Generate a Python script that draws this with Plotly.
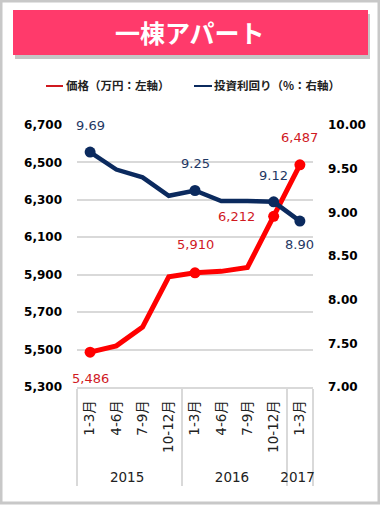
import plotly.graph_objects as go

# ---- data ----
years = ["2015", "2015", "2015", "2015", "2016", "2016", "2016", "2016", "2017"]
quarters = ["1-3月", "4-6月", "7-9月", "10-12月", "1-3月", "4-6月", "7-9月", "10-12月", "1-3月"]
price = [5486, 5520, 5620, 5889, 5910, 5918, 5939, 6212, 6487]          # 万円 (left axis)
yield_pct = [9.69, 9.49, 9.40, 9.19, 9.25, 9.13, 9.13, 9.12, 8.90]     # % (right axis)
left_ticks = [5300, 5500, 5700, 5900, 6100, 6300, 6500, 6700]
right_ticks = [7.00, 7.50, 8.00, 8.50, 9.00, 9.50, 10.00]
title_text = "一棟アパート"
legend_price = "価格（万円：左軸）"
legend_yield = "投資利回り（%：右軸）"

# labelled points: (index, yshift, xshift)
price_labels = [(0, -26, 0), (4, 28, 0), (7, 0, -37), (8, 27, 0)]
yield_labels = [(0, 27, 0), (4, 27, 0), (7, 26, 0), (8, -23, 0)]

RED = "#FF0000"
RED_TXT = "#D0191F"
NAVY = "#0B2A5E"
NAVY_TXT = "#1F3864"
GRID = "#D9D9D9"
FONT = "DejaVu Sans, Noto Sans CJK JP"

W, H = 380, 505
ML, MR, MT, MB = 77, 67, 125, 118
PW, PH = W - ML - MR, H - MT - MB


def px(x):
    return (x - ML) / PW


def py(y):
    return 1 - (y - MT) / PH


# leading non-breaking spaces leave room below the rotated quarter labels
quarters_disp = ["\u00a0\u00a0" + q for q in quarters]
x = [years, quarters_disp]
price_marker_sizes = [11 if i in [p[0] for p in price_labels] else 0 for i in range(len(price))]
yield_marker_sizes = [11 if i in [p[0] for p in yield_labels] else 0 for i in range(len(yield_pct))]

fig = go.Figure()
fig.add_trace(go.Scatter(
    x=x, y=yield_pct, yaxis="y2", mode="lines+markers",
    line=dict(color=NAVY, width=4.5),
    marker=dict(size=yield_marker_sizes, color=NAVY, opacity=1, line=dict(width=0)),
    showlegend=False, hoverinfo="skip",
))
fig.add_trace(go.Scatter(
    x=x, y=price, mode="lines+markers",
    line=dict(color=RED, width=5),
    marker=dict(size=price_marker_sizes, color=RED, opacity=1, line=dict(width=0)),
    showlegend=False, hoverinfo="skip",
))

annotations = []
for i, ys, xs in price_labels:
    annotations.append(dict(
        x=i, y=price[i], xref="x", yref="y", text=f"{price[i]:,}", showarrow=False,
        yshift=ys, xshift=xs, font=dict(color=RED_TXT, size=13, family=FONT),
    ))
for i, ys, xs in yield_labels:
    annotations.append(dict(
        x=i, y=yield_pct[i], xref="x", yref="y2", text=f"{yield_pct[i]:.2f}", showarrow=False,
        yshift=ys, xshift=xs, font=dict(color=NAVY_TXT, size=13, family=FONT),
    ))

# title banner text
annotations.append(dict(
    x=px(190), y=py(32), xref="paper", yref="paper", text=f"<b>{title_text}</b>",
    showarrow=False, font=dict(color="white", size=25, family="Noto Sans CJK JP"),
    xanchor="center", yanchor="middle",
))
# legend texts
annotations.append(dict(
    x=px(64), y=py(85), xref="paper", yref="paper", text=f"<b>{legend_price}</b>",
    showarrow=False, font=dict(color="#222222", size=11.5, family="Noto Sans CJK JP"),
    xanchor="left", yanchor="middle",
))
annotations.append(dict(
    x=px(212), y=py(85), xref="paper", yref="paper", text=f"<b>{legend_yield}</b>",
    showarrow=False, font=dict(color="#222222", size=11.5, family="Noto Sans CJK JP"),
    xanchor="left", yanchor="middle",
))

shapes = [
    # outer frame
    dict(type="rect", xref="paper", yref="paper", x0=px(1), x1=px(379), y0=py(1), y1=py(503),
         line=dict(color="#C8C8C8", width=3), fillcolor="rgba(0,0,0,0)", layer="below"),
    # banner shadow
    dict(type="rect", xref="paper", yref="paper", x0=px(15), x1=px(370), y0=py(14), y1=py(59),
         line=dict(width=0), fillcolor="rgba(90,90,90,0.35)", layer="below"),
    # banner
    dict(type="rect", xref="paper", yref="paper", x0=px(13), x1=px(368), y0=py(10), y1=py(55),
         line=dict(width=0), fillcolor="#FF3A6B", layer="below"),
    # legend line swatches
    dict(type="line", xref="paper", yref="paper", x0=px(46), x1=px(63), y0=py(86), y1=py(86),
         line=dict(color="#D0191F", width=2)),
    dict(type="line", xref="paper", yref="paper", x0=px(194), x1=px(212), y0=py(86), y1=py(86),
         line=dict(color=NAVY, width=2)),
]

fig.update_layout(
    width=W, height=H,
    margin=dict(l=ML, r=MR, t=MT, b=MB, pad=0),
    paper_bgcolor="white", plot_bgcolor="white",
    font=dict(family=FONT, color="#000000"),
    annotations=annotations, shapes=shapes,
    xaxis=dict(
        type="multicategory", tickangle=-90, showgrid=False, automargin=False,
        range=[-0.5, 8.5],
        showline=True, linecolor=GRID, linewidth=1.5,
        showdividers=True, dividercolor=GRID, dividerwidth=1.5,
        tickfont=dict(size=13.5, color="#222222", family=FONT),
        ticks="", ticklabelstandoff=6,
    ),
    yaxis=dict(
        range=[5300, 6700], tickvals=left_ticks, tickformat=",", automargin=False,
        showgrid=True, gridcolor=GRID, gridwidth=1.5, zeroline=False,
        tickfont=dict(size=12, color="#000000", family=FONT, weight="bold"),
        ticks="", ticklabelstandoff=14,
    ),
    yaxis2=dict(
        range=[7, 10], tickvals=right_ticks, tickformat=".2f", automargin=False,
        overlaying="y", side="right", showgrid=False, zeroline=False,
        tickfont=dict(size=12, color="#000000", family=FONT, weight="bold"),
        ticks="", ticklabelstandoff=14,
    ),
)

fig.write_html("out.html", config={"displayModeBar": False},
               post_script="document.body.style.margin='0';document.body.style.overflow='hidden';")
